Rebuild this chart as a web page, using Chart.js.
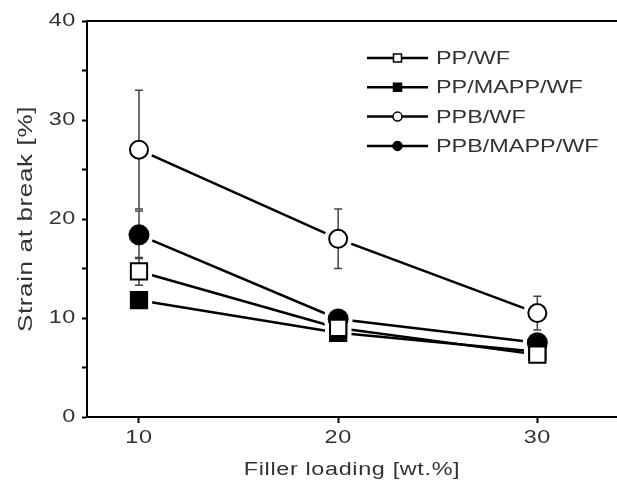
<!DOCTYPE html>
<html>
<head>
<meta charset="utf-8">
<script src="https://cdn.jsdelivr.net/npm/chart.js@4.4.0/dist/chart.umd.min.js"></script>
<style>
  html, body { margin: 0; padding: 0; background: #fff; }
  #wrap { width: 617px; height: 491px; }
</style>
</head>
<body>
<div id="wrap"><canvas id="strainChart"></canvas></div>
<script>
// filler loading (wt.%) and strain at break (%)
const loadings = [10, 20, 30];
const ppWf = [14.7, 9.0, 6.3];
const ppMappWf = [11.8, 8.5, 6.6];
const ppbWf = [27.0, 18.0, 10.5];
const ppbMappWf = [18.4, 9.9, 7.5];
// error bars (+/-)
const ppWfErr = [1.4, 0.4, 0.3];
const ppMappWfErr = [0.7, 0.4, 0.3];
const ppbWfErr = [6.0, 3.0, 1.7];
const ppbMappWfErr = [2.4, 0.5, 0.5];
const xTicks = [10, 20, 30];
const yTicks = [0, 5, 10, 15, 20, 25, 30, 35, 40];

const textColor = '#333';
const fontFamily = '"Liberation Sans", Arial, sans-serif';
const textStretch = 1.3; // the figure's lettering is wide
Chart.defaults.font.family = fontFamily;
Chart.defaults.font.size = 18;
Chart.defaults.color = textColor;

function toPoints(ys) {
    return loadings.map((x, i) => ({ x: x, y: ys[i] }));
}

const series = [
    { label: 'PP/WF', data: ppWf, err: ppWfErr, style: 'rect', fill: '#fff', radius: 11.5 },
    { label: 'PP/MAPP/WF', data: ppMappWf, err: ppMappWfErr, style: 'rect', fill: '#000', radius: 11.5 },
    { label: 'PPB/WF', data: ppbWf, err: ppbWfErr, style: 'circle', fill: '#fff', radius: 9 },
    { label: 'PPB/MAPP/WF', data: ppbMappWf, err: ppbMappWfErr, style: 'circle', fill: '#000', radius: 9.5 }
];

// wide text, white gap round the markers, error bars, top frame, legend
const figurePlugin = {
    id: 'figure',
    beforeDraw(chart) {
        const ctx = chart.ctx;
        ctx.letterSpacing = '0.5px';
        if (!ctx._wideText) {
            const fill = ctx.fillText;
            ctx.fillText = function(text, x, y, maxWidth) {
                this.save();
                this.translate(x, y);
                this.scale(textStretch, 1);
                fill.call(this, text, 0, 0);
                this.restore();
            };
            ctx._wideText = true;
        }
    },
    afterDatasetsDraw(chart) {
        const ctx = chart.ctx;
        const xs = chart.scales.x, ys = chart.scales.y;
        ctx.save();
        // gaps
        ctx.fillStyle = '#fff';
        chart.data.datasets.forEach((ds, i) => {
            chart.getDatasetMeta(i).data.forEach(pt => {
                const r = series[i].radius;
                ctx.beginPath();
                if (series[i].style === 'rect') {
                    const h = r * Math.SQRT1_2 + 5;
                    ctx.rect(pt.x - h, pt.y - h, 2 * h, 2 * h);
                } else {
                    ctx.arc(pt.x, pt.y, r + 5, 0, Math.PI * 2);
                }
                ctx.fill();
            });
        });
        // error bars
        ctx.strokeStyle = '#444';
        ctx.lineWidth = 1.5;
        series.forEach(s => {
            loadings.forEach((x, j) => {
                const px = xs.getPixelForValue(x);
                const top = ys.getPixelForValue(s.data[j] + s.err[j]);
                const bot = ys.getPixelForValue(s.data[j] - s.err[j]);
                ctx.beginPath();
                ctx.moveTo(px, top); ctx.lineTo(px, bot);
                ctx.moveTo(px - 4, top); ctx.lineTo(px + 4, top);
                ctx.moveTo(px - 4, bot); ctx.lineTo(px + 4, bot);
                ctx.stroke();
            });
        });
        ctx.restore();
        // markers on top
        for (let i = chart.data.datasets.length - 1; i >= 0; i--) {
            chart.getDatasetMeta(i).data.forEach(pt => pt.draw(ctx, chart.chartArea));
        }
    },
    afterDraw(chart) {
        const ctx = chart.ctx;
        const area = chart.chartArea;
        ctx.save();
        ctx.strokeStyle = '#000';
        ctx.lineWidth = 2;
        ctx.beginPath();
        ctx.moveTo(area.left - 1, area.top);
        ctx.lineTo(area.right, area.top);
        ctx.stroke();

        // legend
        const x0 = area.left + 280, lineLen = 61;
        ctx.font = '18px ' + fontFamily;
        ctx.letterSpacing = '0px';
        ctx.textBaseline = 'middle';
        series.forEach((s, i) => {
            const y = area.top + 37 + i * 29.3;
            ctx.strokeStyle = '#000';
            ctx.lineWidth = 2.5;
            ctx.beginPath();
            ctx.moveTo(x0, y); ctx.lineTo(x0 + lineLen, y);
            ctx.stroke();
            const mx = x0 + lineLen / 2;
            ctx.lineWidth = 1.5;
            ctx.beginPath();
            if (s.style === 'rect') ctx.rect(mx - 4, y - 4, 8, 8);
            else ctx.arc(mx, y, 4.5, 0, Math.PI * 2);
            ctx.fillStyle = s.fill;
            ctx.fill();
            ctx.stroke();
            ctx.fillStyle = textColor;
            ctx.fillText(s.label, x0 + lineLen + 8, y + 1);
        });
        ctx.restore();
    }
};

new Chart(document.getElementById('strainChart'), {
    type: 'line',
    data: {
        datasets: series.map(s => ({
            label: s.label,
            data: toPoints(s.data),
            borderColor: '#000',
            borderWidth: 2.5,
            pointStyle: s.style,
            pointRadius: s.radius,
            pointBackgroundColor: s.fill,
            pointBorderColor: '#000',
            pointBorderWidth: 2,
            tension: 0
        }))
    },
    options: {
        responsive: true,
        maintainAspectRatio: false,
        animation: false,
        layout: { autoPadding: false, padding: { top: 21, right: 0, left: 0, bottom: 0 } },
        plugins: { legend: { display: false }, tooltip: { enabled: false } },
        scales: {
            x: {
                type: 'linear',
                min: 7.39,
                max: 34,
                afterBuildTicks: scale => { scale.ticks = xTicks.map(v => ({ value: v })); },
                afterFit: scale => { scale.height = 74; },
                grid: { drawOnChartArea: false, tickLength: 6, tickColor: '#000', tickWidth: 2 },
                border: { color: '#000', width: 2 },
                ticks: { padding: 4, color: textColor, autoSkip: false, maxRotation: 0 },
                title: { display: true, text: 'Filler loading [wt.%]', color: textColor, font: { size: 18 }, padding: { bottom: 10 } }
            },
            y: {
                min: 0,
                max: 40,
                afterBuildTicks: scale => { scale.ticks = yTicks.map(v => ({ value: v })); },
                afterFit: scale => { scale.width = 87; },
                grid: { drawOnChartArea: false, tickLength: 5, tickColor: '#000', tickWidth: 2 },
                border: { color: '#000', width: 2 },
                ticks: {
                    padding: 6,
                    color: textColor,
                    autoSkip: false,
                    callback: v => (v % 10 === 0 ? v : '')
                },
                title: { display: true, text: 'Strain at break [%]', color: textColor, font: { size: 20 }, padding: { top: 14 } }
            }
        }
    },
    plugins: [figurePlugin]
});
</script>
</body>
</html>
